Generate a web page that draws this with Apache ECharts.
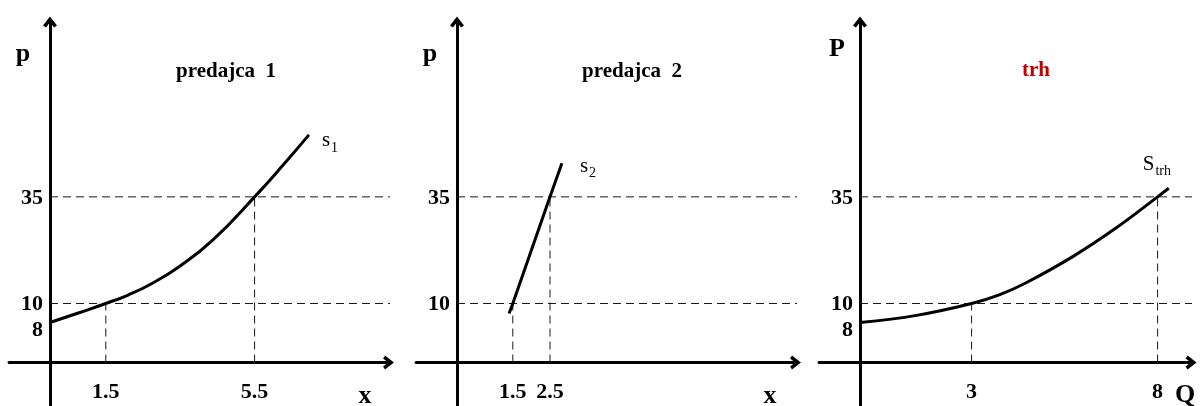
<!DOCTYPE html>
<html>
<head>
<meta charset="utf-8">
<script src="https://cdn.jsdelivr.net/npm/echarts@6/dist/echarts.min.js"></script>
<style>
  html, body { margin: 0; padding: 0; background: #fff; }
  #chart { width: 1200px; height: 406px; }
</style>
</head>
<body>
<div id="chart"></div>
<script>
// ---- data -------------------------------------------------------------
// Seller 1 supply curve s1 (quantity x, price p)
const s1Quantity = [0, 0.8, 1.5, 2.1, 2.69, 3.49, 4.38, 5.5, 6.26, 6.96];
const s1Price    = [8, 9.0, 10, 11.05, 12.5, 15.5, 21.1, 35, 50.7, 72.5];

// Seller 2 supply line s2
const s2Quantity = [1.4, 1.5, 2.5, 2.82];
const s2Price    = [8.9, 10, 35, 52];

// Market supply S_trh (sum of both sellers)
const marketQuantity = [0, 1.52, 3, 3.76, 4.48, 5.73, 6.9, 8, 8.3];
const marketPrice    = [8, 8.7, 10, 11.1, 12.8, 17.4, 24.4, 35, 38.7];

// Price levels marked with dashed guides
const priceLevels = [35, 10];

// Quantity offered at each marked price level, per panel
const s1Guides     = [[1.5, 10], [5.5, 35]];
const s2Guides     = [[1.5, 10], [2.5, 35]];
const marketGuides = [[3, 10], [8, 35]];

// Tick labels on the quantity axes
const s1Ticks     = [1.5, 5.5];
const s2Ticks     = [1.5, 2.5];
const marketTicks = [3, 8];

// Price at which the quantity axis is drawn (log price axis)
const AXIS_PRICE = 5;

// ---- layout -----------------------------------------------------------
const UNIT = 37.2;          // pixels per quantity unit
const X_MIN = -1.1;
const PRICE_MIN = 3, PRICE_MAX = 273;
const GRID_TOP = 22, GRID_HEIGHT = 384;

const panels = [
  { origin: 50,  xMax: 9.1, title: 'predajca  1', titleColor: '#000', titleX: 226, titleY: 72,
    yName: 'p', yNameX: 23, yNameY: 54, xName: 'x', xNameX: 365, xNameY: 396,
    ticks: s1Ticks, guides: s1Guides, guideEnd: 9.5 },
  { origin: 457, xMax: 9.1, title: 'predajca  2', titleColor: '#000', titleX: 632, titleY: 72,
    yName: 'p', yNameX: 430, yNameY: 54, xName: 'x', xNameX: 770, xNameY: 396,
    ticks: s2Ticks, guides: s2Guides, guideEnd: 9.4 },
  { origin: 860, xMax: 8.9, title: 'trh', titleColor: '#c00000', titleX: 1036, titleY: 71,
    yName: 'P', yNameX: 837, yNameY: 49, xName: 'Q', xNameX: 1185, xNameY: 395,
    ticks: marketTicks, guides: marketGuides, guideEnd: 9.0 }
];

const SERIF = '"Liberation Serif", "Times New Roman", serif';
const ARROW = 'path://M5 0L10 6.4L7.9 7.8L5 4.1L2.1 7.8L0 6.4Z';
const tickFont = { fontFamily: SERIF, fontWeight: 'bold', fontSize: 22, color: '#000' };
const axisLineStyle = { color: '#000', width: 3 };
const dashStyle = { color: '#1a1a1a', width: 1, type: [8, 5] };

const zip = (xs, ys) => xs.map((x, i) => [x, ys[i]]);

// ---- axes -------------------------------------------------------------
const grid = panels.map(p => ({
  left: p.origin + X_MIN * UNIT,
  top: GRID_TOP,
  width: (p.xMax - X_MIN) * UNIT,
  height: GRID_HEIGHT,
  containLabel: false,
  outerBoundsMode: 'none'
}));

const xAxis = panels.map((p, i) => ({
  type: 'value',
  gridIndex: i,
  min: X_MIN,
  max: p.xMax,
  position: 'bottom',
  // the quantity axis sits at price AXIS_PRICE on the log price scale
  offset: -GRID_HEIGHT * (Math.log10(AXIS_PRICE) - Math.log10(PRICE_MIN)) /
          (Math.log10(PRICE_MAX) - Math.log10(PRICE_MIN)),
  axisLine: { show: true, onZero: false, lineStyle: axisLineStyle,
              symbol: ['none', ARROW], symbolSize: [14, 12] },
  axisTick: { show: false },
  splitLine: { show: false },
  axisLabel: Object.assign({ customValues: p.ticks, margin: 19 }, tickFont)
}));

const yAxis = panels.map((p, i) => ({
  type: 'log',
  gridIndex: i,
  min: PRICE_MIN,
  max: PRICE_MAX,
  axisLine: { show: true, onZero: true, lineStyle: axisLineStyle,
              symbol: ['none', ARROW], symbolSize: [14, 12] },
  axisTick: { show: false },
  splitLine: { show: false },
  minorSplitLine: { show: false },
  axisLabel: { show: false }
}));

// ---- series -----------------------------------------------------------
const series = [];

panels.forEach((p, i) => {
  // horizontal dashed price guides, labelled on the price axis
  priceLevels.forEach(level => {
    series.push({
      type: 'line', xAxisIndex: i, yAxisIndex: i, clip: false,
      symbol: 'circle', symbolSize: 0, silent: true, z: 1,
      lineStyle: dashStyle,
      data: [
        { value: [0, level],
          label: Object.assign({ show: true, position: 'left', distance: 7,
                                 offset: [0, 1], formatter: String(level) }, tickFont) },
        [p.guideEnd, level]
      ]
    });
  });
  // vertical dashed guides from the quantity axis up to the curve
  p.guides.forEach(([q, price]) => {
    series.push({
      type: 'line', xAxisIndex: i, yAxisIndex: i, clip: false,
      symbol: 'none', silent: true, z: 1,
      lineStyle: dashStyle,
      data: [[q, AXIS_PRICE], [q, price]]
    });
  });
});

function startLabel() {
  return Object.assign({ show: true, position: 'left', distance: 7, offset: [0, 8],
                         formatter: prm => String(prm.value[1]) }, tickFont);
}

function curveData(qs, ps, labelFirst) {
  const pts = zip(qs, ps);
  if (labelFirst) pts[0] = { value: pts[0], label: startLabel() };
  return pts;
}

const curveLine = { color: '#000', width: 3 };
const subRich = (size) => ({
  s: { fontFamily: SERIF, fontSize: size, color: '#000', verticalAlign: 'bottom' },
  sub: { fontFamily: SERIF, fontSize: 14, color: '#000', verticalAlign: 'bottom', padding: [0, 0, -4, 1] }
});

series.push({
  name: 's1', type: 'line', xAxisIndex: 0, yAxisIndex: 0, clip: false,
  smooth: 0.5, symbol: 'circle', symbolSize: 0, silent: true, z: 3,
  lineStyle: curveLine,
  data: curveData(s1Quantity, s1Price, true),
  endLabel: { show: true, distance: 13, offset: [0, 6], formatter: '{s|s}{sub|1}', rich: subRich(21) }
});

series.push({
  name: 's2', type: 'line', xAxisIndex: 1, yAxisIndex: 1, clip: false,
  symbol: 'circle', symbolSize: 0, silent: true, z: 3,
  lineStyle: curveLine,
  data: curveData(s2Quantity, s2Price, false),
  endLabel: { show: true, distance: 18, offset: [0, 3], formatter: '{s|s}{sub|2}', rich: subRich(21) }
});

series.push({
  name: 'Strh', type: 'line', xAxisIndex: 2, yAxisIndex: 2, clip: false,
  smooth: 0.4, symbol: 'circle', symbolSize: 0, silent: true, z: 3,
  lineStyle: curveLine,
  data: curveData(marketQuantity, marketPrice, true),
  endLabel: { show: true, distance: 0, offset: [-26, -24], formatter: '{s|S}{sub|trh}', rich: subRich(21) }
});

// ---- titles and axis names --------------------------------------------
const graphic = [];
panels.forEach(p => {
  graphic.push({ type: 'text', x: p.titleX, y: p.titleY, silent: true,
    style: { text: p.title, font: 'bold 21px ' + SERIF, fill: p.titleColor,
             align: 'center', verticalAlign: 'middle' } });
  graphic.push({ type: 'text', x: p.yNameX, y: p.yNameY, silent: true,
    style: { text: p.yName, font: 'bold 26px ' + SERIF, fill: '#000',
             align: 'center', verticalAlign: 'middle' } });
  graphic.push({ type: 'text', x: p.xNameX, y: p.xNameY, silent: true,
    style: { text: p.xName, font: 'bold 26px ' + SERIF, fill: '#000',
             align: 'center', verticalAlign: 'middle' } });
});

const chart = echarts.init(document.getElementById('chart'), null, { renderer: 'canvas' });
chart.setOption({
  animation: false,
  backgroundColor: '#fff',
  grid, xAxis, yAxis, series, graphic
});
</script>
</body>
</html>
